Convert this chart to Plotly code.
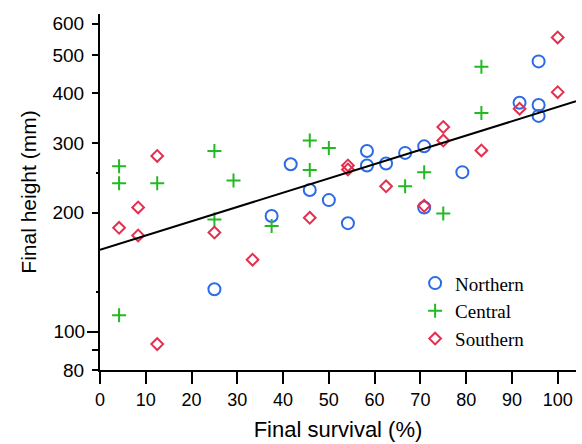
import plotly.graph_objects as go
import numpy as np

# ---- data ----
north_x = [25, 37.5, 41.67, 45.83, 50, 54.17, 58.33, 58.33, 62.5, 66.67, 70.83, 70.83, 79.17, 91.67, 95.83, 95.83, 95.83]
north_y = [128, 196, 265, 228, 215, 188, 286, 263, 266, 283, 294, 206, 253, 379, 374, 351, 482]

central_x = [4.17, 4.17, 4.17, 12.5, 25, 25, 29.17, 37.5, 45.83, 45.83, 50, 66.67, 70.83, 75, 83.33, 83.33]
central_y = [262, 237, 110, 237, 286, 192, 241, 185, 304, 256, 291, 233, 253, 199, 357, 467]

south_x = [4.17, 8.33, 8.33, 12.5, 12.5, 25, 33.33, 45.83, 54.17, 54.17, 62.5, 70.83, 75, 75, 83.33, 91.67, 100, 100]
south_y = [183, 206, 175, 278, 93, 178, 152, 194, 263, 257, 233, 208, 329, 304, 287, 366, 403, 554]

# fitted line: log10(height) = log10(fit_intercept) + fit_slope * survival
fit_intercept = 161
fit_slope = 0.00361
fit_x_ends = [0, 104]

x_ticks = [0, 10, 20, 30, 40, 50, 60, 70, 80, 90, 100]
y_ticks = [80, 90, 200, 300, 400, 500, 600]
y_ticktext = ["80", "", "200", "300", "400", "500", "600"]
y_long_tick = [100]
y_minor_ticks = [126, 252]

fit_x = np.linspace(fit_x_ends[0], fit_x_ends[1], 50)
fit_y = fit_intercept * 10 ** (fit_slope * fit_x)

BLUE = "#2b6be6"
GREEN = "#22b922"
RED = "#e3304e"

fig = go.Figure()
fig.add_trace(go.Scatter(x=north_x, y=north_y, mode="markers", name="Northern",
                         marker=dict(symbol="circle-open", size=12, color=BLUE,
                                     line=dict(width=2, color=BLUE))))
fig.add_trace(go.Scatter(x=central_x, y=central_y, mode="markers", name="Central",
                         marker=dict(symbol="cross-thin-open", size=10, color=GREEN,
                                     line=dict(width=2, color=GREEN))))
fig.add_trace(go.Scatter(x=south_x, y=south_y, mode="markers", name="Southern",
                         marker=dict(symbol="diamond-open", size=9, color=RED,
                                     line=dict(width=2, color=RED))))
fig.add_trace(go.Scatter(x=fit_x, y=fit_y, mode="lines", showlegend=False,
                         line=dict(color="black", width=2), yaxis="y2", hoverinfo="skip"))

yr = [np.log10(80), np.log10(635)]

fig.update_layout(
    width=582, height=444,
    margin=dict(l=100, r=6, t=14, b=74),
    paper_bgcolor="white", plot_bgcolor="white",
    font=dict(family="Liberation Sans, Arial, sans-serif", color="black"),
    showlegend=True,
    legend=dict(x=0.662, y=0.297, xanchor="left", yanchor="top",
                font=dict(family="Liberation Serif, Times New Roman, serif", size=19, color="black"),
                bgcolor="rgba(0,0,0,0)"),
    xaxis=dict(range=[0, 104], tickmode="array", tickvals=x_ticks,
               showline=True, linecolor="black", linewidth=2,
               ticks="outside", ticklen=12, tickwidth=2, tickcolor="black",
               showgrid=False, zeroline=False, tickfont=dict(size=18),
               title=dict(text="Final survival (%)", font=dict(size=22), standoff=13)),
    yaxis=dict(type="log", range=yr, tickmode="array", tickvals=y_ticks, ticktext=y_ticktext,
               showline=True, linecolor="black", linewidth=2,
               ticks="outside", ticklen=6, tickwidth=2, tickcolor="black",
               ticklabelstandoff=4,
               minor=dict(tickmode="array", tickvals=y_minor_ticks, ticks="outside",
                          ticklen=2, tickwidth=2, tickcolor="black", showgrid=False),
               showgrid=False, zeroline=False, tickfont=dict(size=19),
               title=dict(text="Final height (mm)", font=dict(size=21), standoff=10)),
    yaxis2=dict(type="log", range=yr, overlaying="y", side="left", anchor="x",
                tickmode="array", tickvals=y_long_tick, ticktext=["100"],
                ticks="outside", ticklen=12, tickwidth=2, tickcolor="black",
                showline=False, showgrid=False, zeroline=False,
                showticklabels=True, tickfont=dict(size=19), ticklabelstandoff=-2),
)

fig.write_html("out.html")
